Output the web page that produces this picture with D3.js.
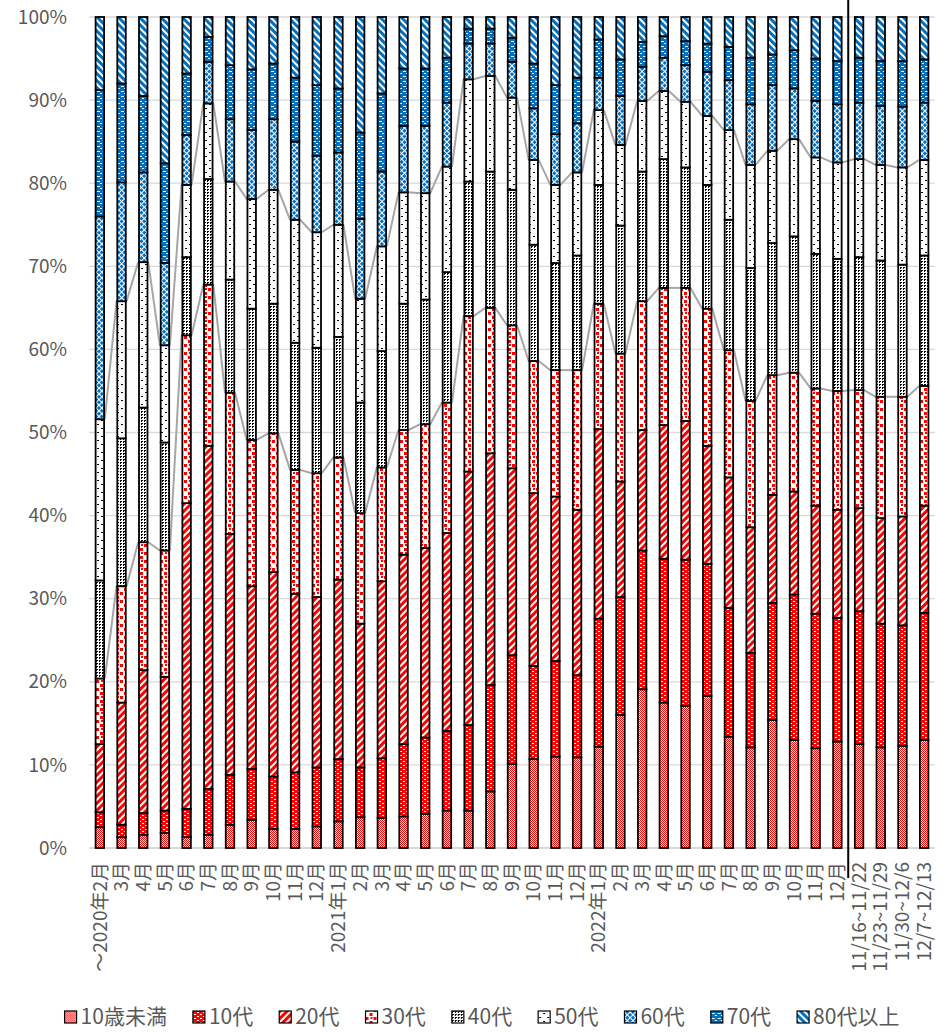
<!DOCTYPE html>
<html>
<head>
<meta charset="utf-8">
<script src="https://cdn.jsdelivr.net/npm/d3@7"></script>
<style>
  body { margin: 0; background: #fff; }
  text { font-family: "Noto Sans CJK JP", "Noto Sans", sans-serif; fill: #595959; }
</style>
</head>
<body>
<svg id="chart" width="943" height="1033"></svg>
<script>
const periods = ["～2020年2月","3月","4月","5月","6月","7月","8月","9月","10月","11月","12月",
  "2021年1月","2月 ","3月 ","4月 ","5月 ","6月 ","7月 ","8月 ","9月 ","10月 ","11月 ","12月 ",
  "2022年1月","2月  ","3月  ","4月  ","5月  ","6月  ","7月  ","8月  ","9月  ","10月  ","11月  ","12月  ",
  "11/16~11/22","11/23~11/29","11/30~12/6","12/7~12/13"];

const ageGroups = ["10歳未満","10代","20代","30代","40代","50代","60代","70代","80代以上"];

// share of cases (%) per age group, one value per period
const under10 = [2.5,1.3,1.6,1.8,1.3,1.6,2.8,3.4,2.3,2.3,2.6,3.2,3.7,3.6,3.8,4.1,4.5,4.5,6.8,10.1,10.7,11.0,10.9,12.2,16.0,19.1,17.5,17.1,18.3,13.4,12.1,15.4,13.0,12.0,12.8,12.5,12.1,12.3,13.0];
const teens   = [1.8,1.5,2.6,2.7,3.4,5.5,6.0,6.1,6.3,6.8,7.1,7.5,6.0,7.2,8.7,9.2,9.6,10.3,12.8,13.1,11.2,11.5,9.9,15.4,14.2,16.7,17.3,17.6,15.9,15.5,11.4,14.1,17.5,16.2,14.9,16.0,14.9,14.5,15.3];
const twenties = [8.2,14.7,17.2,16.1,36.8,41.3,29.0,22.0,24.6,21.5,20.5,21.6,17.3,21.3,22.8,22.8,23.8,30.5,27.9,22.5,20.8,19.8,19.9,22.8,13.9,14.5,16.1,16.7,14.2,15.7,15.1,13.0,12.4,13.0,13.0,12.4,12.7,13.1,12.9];
const thirties = [7.9,14.0,15.4,15.2,20.2,19.4,17.0,17.6,16.7,14.9,14.9,14.7,13.3,13.7,15.0,14.9,15.7,18.7,17.5,17.2,15.9,15.2,16.8,15.1,15.4,15.5,16.5,16.0,16.5,15.3,15.2,14.4,14.3,14.1,14.3,14.2,14.6,14.4,14.4];
const forties = [11.8,17.8,16.2,13.0,9.4,12.7,13.6,15.8,15.6,15.3,15.1,14.5,13.3,14.0,15.2,15.0,15.7,16.2,16.4,16.3,14.0,12.9,13.8,14.3,15.4,15.6,15.5,14.5,14.9,15.7,16.0,15.9,16.4,16.2,15.9,16.0,16.4,15.9,15.7];
const fifties = [19.4,16.5,17.5,11.7,8.7,9.1,11.8,13.2,13.7,14.8,13.9,13.5,12.5,12.6,13.4,12.8,12.7,12.3,11.5,11.1,10.2,9.4,10.0,9.0,9.7,8.5,8.2,7.9,8.3,10.8,12.4,11.1,11.7,11.6,11.6,11.8,11.5,11.7,11.5];
const sixties = [24.4,14.3,10.8,9.9,6.0,5.0,7.5,8.3,8.5,9.4,9.2,8.7,9.6,9.0,8.0,8.1,7.7,4.3,3.9,4.3,6.2,6.1,5.9,3.9,5.9,4.1,4.0,4.4,5.3,6.0,7.3,7.9,6.1,6.8,7.0,6.8,7.1,7.3,6.9];
const seventies = [15.2,11.9,9.2,12.0,7.4,3.0,6.5,7.3,6.7,7.7,8.5,7.7,10.4,9.4,6.9,6.9,5.4,1.8,1.8,2.9,5.4,5.9,5.5,4.6,4.4,3.0,2.6,2.9,3.4,4.0,5.6,3.7,4.6,5.1,5.2,5.4,5.4,5.5,5.2];
const over80 = [8.8,8.0,9.5,17.6,6.8,2.4,5.8,6.3,5.6,7.3,8.2,8.6,13.9,9.2,6.2,6.2,4.9,1.4,1.4,2.5,5.6,8.2,7.3,2.7,5.1,3.0,2.3,2.9,3.2,3.6,4.9,4.5,4.0,5.0,5.3,4.9,5.3,5.3,5.1];

const yTicks = [0,0.1,0.2,0.3,0.4,0.5,0.6,0.7,0.8,0.9,1];

const seriesValues = [under10, teens, twenties, thirties, forties, fifties, sixties, seventies, over80];
const rows = periods.map((p, i) => {
  const r = { period: p };
  ageGroups.forEach((g, k) => r[g] = seriesValues[k][i]);
  return r;
});

const svg = d3.select("#chart");
const plotLeft = 89, plotRight = 935, plotTop = 17, plotBottom = 848;

const x = d3.scaleBand().domain(periods).range([plotLeft, plotRight]).paddingInner(0.54).paddingOuter(0.27);
const y = d3.scaleLinear().domain([0, 1]).range([plotBottom, plotTop]);

const red = "#ff0000", blue = "#0070c0";
const defs = svg.append("defs");

function pat(id, w, h, bg, rects, transform) {
  const p = defs.append("pattern").attr("id", id)
    .attr("patternUnits", "userSpaceOnUse").attr("width", w).attr("height", h);
  if (transform) p.attr("patternTransform", transform);
  p.append("rect").attr("width", w).attr("height", h).attr("fill", bg);
  rects.forEach(r => p.append("rect").attr("x", r[0]).attr("y", r[1])
    .attr("width", r[2]).attr("height", r[3]).attr("fill", r[4]));
}
pat("p0", 4, 4, "#fff", [[0,0,1,1,red],[1,1,1,1,red],[2,0,1,1,red],[3,1,1,1,red],[0,2,1,1,red],[1,3,1,1,red],[2,2,1,1,red],[3,3,1,1,red]]);
pat("p1", 6, 4, red, [[1,1,2,1,"#fff"],[4,3,2,1,"#fff"]]);
pat("p2", 5, 5, "#fff", [[0,0,3,5,red]], "rotate(45)");
pat("p3", 8, 8, "#fff", [[0,0,3,3,red],[4,4,3,3,red],[5,0,2,2,red]]);
pat("p4", 3, 3, "#fff", [[0,0,2,1,"#000"],[0,1,1,1,"#000"]]);
pat("p5", 8, 8, "#fff", [[1,0,2,1,"#000"],[5,4,2,1,"#000"]]);
pat("p6", 4, 4, blue, [[0,0,4,1,"#fff"],[0,0,1,4,"#fff"]], "rotate(45)");
pat("p7", 6, 5, blue, [[1,1,3,1,"#fff"],[4,3,2,1,"#fff"]]);
pat("p8", 5, 5, "#fff", [[0,0,3,5,blue]], "rotate(-45)");

// gridlines
svg.append("g").selectAll("line").data(yTicks.slice(1)).join("line")
  .attr("x1", plotLeft).attr("x2", plotRight)
  .attr("y1", d => y(d)).attr("y2", d => y(d))
  .attr("stroke", "#d9d9d9").attr("stroke-width", 1.3);
svg.append("line").attr("x1", plotLeft).attr("x2", plotRight).attr("y1", plotBottom).attr("y2", plotBottom)
  .attr("stroke", "#d9d9d9").attr("stroke-width", 2);

// y axis labels
svg.append("g").selectAll("text").data(yTicks).join("text")
  .attr("x", 67).attr("y", d => y(d)).attr("dy", "0.35em")
  .attr("text-anchor", "end").style("font-size", "19px")
  .text(d => d3.format(".0%")(d));

const stack = d3.stack().keys(ageGroups).offset(d3.stackOffsetExpand);
const series = stack(rows);
const bw = x.bandwidth();

// series lines at the top of 30代 and 50代
["30代", "50代"].forEach(key => {
  const s = series.find(d => d.key === key);
  svg.append("g").selectAll("line").data(d3.pairs(s)).join("line")
    .attr("x1", d => x(d[0].data.period) + bw)
    .attr("x2", d => x(d[1].data.period))
    .attr("y1", d => y(d[0][1]))
    .attr("y2", d => y(d[1][1]))
    .attr("stroke", "#a6a6a6").attr("stroke-width", 2);
});

// bars
svg.append("g").selectAll("g").data(series).join("g")
  .attr("fill", (d, i) => `url(#p${i})`)
  .selectAll("rect").data(d => d).join("rect")
  .attr("x", d => x(d.data.period) + 0.75)
  .attr("width", bw - 1.5)
  .attr("y", d => y(d[1]))
  .attr("height", d => y(d[0]) - y(d[1]))
  .attr("stroke", "#000").attr("stroke-width", 1.8);

// separator between monthly and weekly periods
const sepX = x(periods[34]) + bw + x.step() * x.paddingInner() / 2;
svg.append("line").attr("x1", sepX).attr("x2", sepX).attr("y1", 0).attr("y2", 878)
  .attr("stroke", "#000").attr("stroke-width", 2);

// x labels
svg.append("g").selectAll("text").data(periods).join("text")
  .attr("transform", d => `translate(${x(d) + bw / 2},862) rotate(-90)`)
  .attr("dy", "0.35em").attr("text-anchor", "end").style("font-size", "19px")
  .text(d => d.trim());

// legend
const legend = svg.append("g");
let lx = 0;
ageGroups.forEach((g, i) => {
  const item = legend.append("g").attr("transform", `translate(${lx},0)`);
  item.append("rect").attr("x", 0).attr("y", -6).attr("width", 12).attr("height", 12)
    .attr("fill", `url(#p${i})`).attr("stroke", "#000").attr("stroke-width", 1.2);
  const t = item.append("text").attr("x", 16).attr("dy", "0.35em").style("font-size", "21px").text(g);
  lx += 16 + t.node().getComputedTextLength() + 26;
});
lx -= 26;
legend.attr("transform", `translate(${482 - lx / 2},1017)`);
</script>
</body>
</html>
